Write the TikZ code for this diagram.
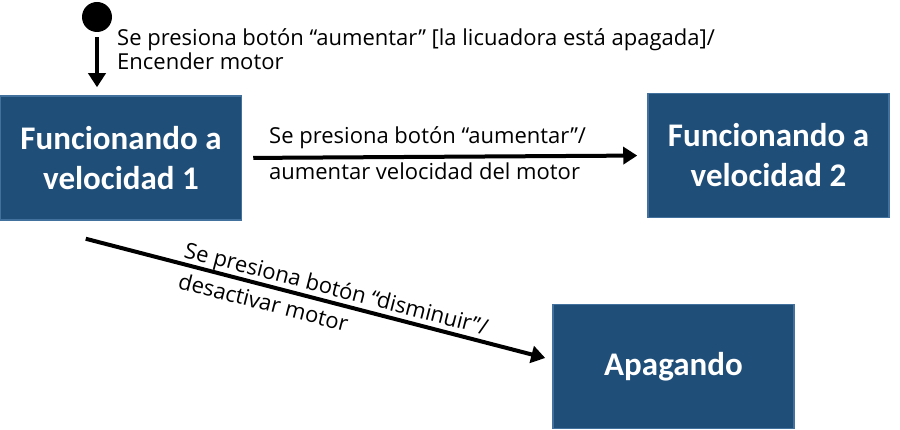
\documentclass[tikz,border=0pt]{standalone}
\usepackage{fontspec}
\usetikzlibrary{arrows.meta,calc}
\newfontfamily\labfont{Open Sans}
\newfontfamily\boxfont{Carlito}
\definecolor{boxfill}{HTML}{1F4E79}
\definecolor{boxline}{HTML}{41719C}
\tikzset{
  state/.style={draw=boxline, line width=1.5pt, fill=boxfill, text=white,
    minimum width=241pt, minimum height=124pt, align=center, inner sep=0pt,
    font=\boxfont\bfseries\fontsize{33}{40}\selectfont},
  trans/.style={line width=4pt, -{Triangle[length=14pt,width=17pt]}},
  lab/.style={anchor=base west, inner sep=0pt, font=\labfont\fontsize{22}{24}\selectfont}
}
\begin{document}
\begin{tikzpicture}[x=1pt,y=-1pt]
\useasboundingbox (0,0) rectangle (900,430);
\node[circle, fill=black, minimum size=30pt, inner sep=0pt] (init) at (97,17) {};
\node[state] (s1) at (121,158) {Funcionando a\\velocidad 1};
\node[state] (s2) at (768.5,155.5) {Funcionando a\\velocidad 2};
\node[state] (s3) at (673.5,366.5) {Apagando};
\draw[trans, shorten <=5pt, shorten >=8pt] (init.south) -- (init.south |- s1.north);
\draw[trans, shorten <=11pt, shorten >=10pt] (s1.east) -- (s2.west);
\draw[trans] ([xshift=86pt,yshift=-18pt]s1.south west) -- ([xshift=-7pt,yshift=8.5pt]s3.west);
\node[lab] (l1a) at (117,46) {Se presiona botón “aumentar” [la licuadora está apagada]/};
\node[lab] (l1b) at (117,70) {Encender motor};
\node[lab] (l2a) at (269,144) {Se presiona botón “aumentar”/};
\node[lab] (l2b) at (269,180) {aumentar velocidad del motor};
\node[lab, rotate=-14.5] (l3a) at (183,257) {Se presiona botón “disminuir”/};
\node[lab, rotate=-14.5] (l3b) at (177,288) {desactivar motor};
\end{tikzpicture}
\end{document}
